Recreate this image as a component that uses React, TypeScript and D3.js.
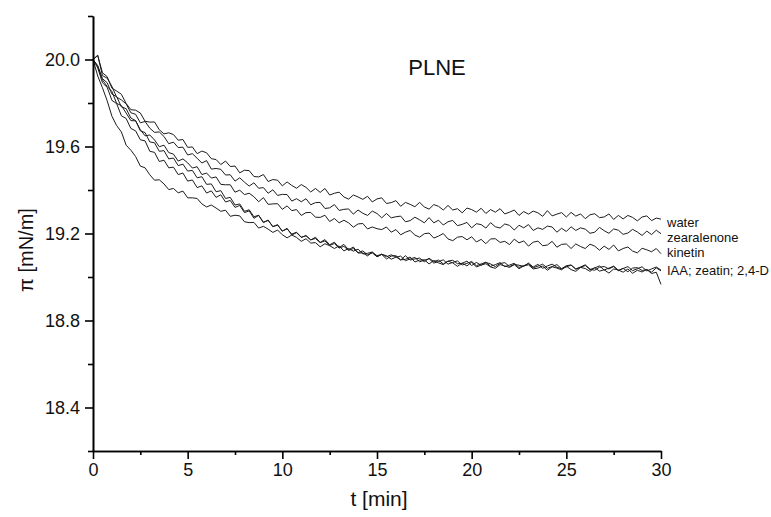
import { useEffect, useRef } from "react";
import * as d3 from "d3";

// surface pressure readings, one every 0.25 min from 0 to 30
const times = d3.range(0, 30.001, 0.25);

const water = [
  20.000, 20.018, 19.939, 19.921, 19.868, 19.855, 19.840, 19.798, 19.769, 19.767,
  19.754, 19.716, 19.712, 19.713, 19.677, 19.658, 19.663, 19.655, 19.629, 19.632,
  19.596, 19.598, 19.567, 19.579, 19.571, 19.544, 19.540, 19.517, 19.533, 19.508,
  19.510, 19.479, 19.491, 19.489, 19.462, 19.460, 19.471, 19.439, 19.448, 19.445,
  19.419, 19.437, 19.421, 19.408, 19.425, 19.412, 19.391, 19.407, 19.389, 19.407,
  19.377, 19.385, 19.390, 19.368, 19.358, 19.377, 19.368, 19.357, 19.371, 19.345,
  19.359, 19.364, 19.338, 19.342, 19.351, 19.325, 19.343, 19.334, 19.323, 19.343,
  19.322, 19.312, 19.333, 19.325, 19.308, 19.329, 19.308, 19.314, 19.295, 19.317,
  19.310, 19.298, 19.316, 19.292, 19.310, 19.298, 19.314, 19.290, 19.298, 19.308,
  19.283, 19.301, 19.289, 19.303, 19.295, 19.279, 19.305, 19.281, 19.289, 19.296,
  19.276, 19.297, 19.280, 19.290, 19.268, 19.286, 19.291, 19.273, 19.276, 19.290,
  19.265, 19.283, 19.267, 19.283, 19.274, 19.258, 19.276, 19.281, 19.259, 19.271,
  19.266,
];

const zearalenone = [
  20.000, 20.020, 19.926, 19.914, 19.876, 19.827, 19.814, 19.796, 19.755, 19.748,
  19.709, 19.715, 19.684, 19.665, 19.667, 19.646, 19.613, 19.620, 19.595, 19.597,
  19.561, 19.567, 19.546, 19.524, 19.535, 19.496, 19.499, 19.495, 19.469, 19.470,
  19.441, 19.456, 19.436, 19.418, 19.433, 19.408, 19.411, 19.385, 19.401, 19.375,
  19.380, 19.379, 19.349, 19.360, 19.346, 19.360, 19.332, 19.342, 19.343, 19.315,
  19.318, 19.333, 19.306, 19.311, 19.313, 19.289, 19.308, 19.293, 19.283, 19.303,
  19.292, 19.272, 19.292, 19.272, 19.277, 19.280, 19.254, 19.259, 19.275, 19.263,
  19.249, 19.273, 19.249, 19.261, 19.239, 19.254, 19.260, 19.236, 19.242, 19.251,
  19.226, 19.245, 19.241, 19.225, 19.250, 19.231, 19.225, 19.244, 19.237, 19.216,
  19.238, 19.226, 19.241, 19.214, 19.226, 19.219, 19.234, 19.230, 19.206, 19.224,
  19.209, 19.231, 19.214, 19.226, 19.220, 19.201, 19.206, 19.228, 19.213, 19.201,
  19.221, 19.215, 19.196, 19.202, 19.219, 19.207, 19.191, 19.211, 19.195, 19.215,
  19.199,
];

const kinetin = [
  20.000, 19.969, 19.906, 19.876, 19.853, 19.798, 19.788, 19.754, 19.719, 19.718,
  19.677, 19.649, 19.653, 19.630, 19.599, 19.606, 19.572, 19.565, 19.533, 19.543,
  19.525, 19.501, 19.507, 19.471, 19.478, 19.455, 19.460, 19.426, 19.424, 19.424,
  19.390, 19.399, 19.379, 19.385, 19.369, 19.346, 19.365, 19.334, 19.336, 19.337,
  19.311, 19.327, 19.305, 19.310, 19.283, 19.296, 19.297, 19.275, 19.274, 19.284,
  19.255, 19.269, 19.249, 19.261, 19.249, 19.229, 19.244, 19.246, 19.221, 19.230,
  19.222, 19.218, 19.230, 19.206, 19.218, 19.194, 19.206, 19.214, 19.193, 19.183,
  19.199, 19.202, 19.179, 19.188, 19.200, 19.175, 19.167, 19.183, 19.186, 19.171,
  19.185, 19.161, 19.173, 19.153, 19.175, 19.176, 19.159, 19.164, 19.149, 19.174,
  19.157, 19.166, 19.142, 19.160, 19.165, 19.144, 19.147, 19.164, 19.137, 19.150,
  19.152, 19.131, 19.152, 19.140, 19.131, 19.151, 19.142, 19.123, 19.142, 19.127,
  19.147, 19.120, 19.131, 19.138, 19.119, 19.111, 19.132, 19.125, 19.116, 19.131,
  19.107,
];

const iaa = [
  20.000, 19.924, 19.870, 19.810, 19.739, 19.696, 19.667, 19.606, 19.583, 19.554,
  19.510, 19.502, 19.470, 19.445, 19.447, 19.428, 19.402, 19.407, 19.387, 19.395,
  19.364, 19.364, 19.361, 19.336, 19.322, 19.331, 19.317, 19.302, 19.307, 19.279,
  19.284, 19.281, 19.254, 19.250, 19.251, 19.225, 19.233, 19.220, 19.205, 19.216,
  19.194, 19.180, 19.193, 19.182, 19.164, 19.176, 19.156, 19.158, 19.139, 19.153,
  19.144, 19.131, 19.143, 19.120, 19.131, 19.119, 19.128, 19.106, 19.109, 19.115,
  19.093, 19.105, 19.093, 19.102, 19.093, 19.078, 19.098, 19.078, 19.083, 19.087,
  19.070, 19.086, 19.071, 19.078, 19.060, 19.073, 19.077, 19.061, 19.063, 19.073,
  19.053, 19.067, 19.054, 19.067, 19.060, 19.048, 19.062, 19.066, 19.048, 19.058,
  19.054, 19.049, 19.064, 19.046, 19.058, 19.040, 19.051, 19.059, 19.045, 19.038,
  19.052, 19.055, 19.037, 19.046, 19.056, 19.036, 19.031, 19.045, 19.048, 19.037,
  19.048, 19.029, 19.040, 19.024, 19.041, 19.043, 19.030, 19.034, 19.022, 19.042,
  19.028,
];

const zeatin = [
  20.000, 19.972, 19.912, 19.893, 19.841, 19.829, 19.782, 19.774, 19.731, 19.719,
  19.672, 19.664, 19.621, 19.617, 19.578, 19.581, 19.543, 19.547, 19.512, 19.519,
  19.487, 19.490, 19.456, 19.461, 19.426, 19.428, 19.392, 19.397, 19.361, 19.366,
  19.331, 19.336, 19.302, 19.309, 19.277, 19.284, 19.252, 19.260, 19.232, 19.238,
  19.212, 19.221, 19.197, 19.206, 19.183, 19.190, 19.171, 19.177, 19.158, 19.166,
  19.145, 19.154, 19.133, 19.141, 19.122, 19.131, 19.112, 19.120, 19.102, 19.111,
  19.093, 19.104, 19.098, 19.082, 19.091, 19.096, 19.075, 19.083, 19.090, 19.070,
  19.077, 19.084, 19.064, 19.071, 19.079, 19.059, 19.067, 19.074, 19.055, 19.063,
  19.071, 19.052, 19.060, 19.068, 19.049, 19.057, 19.066, 19.047, 19.055, 19.063,
  19.044, 19.052, 19.061, 19.042, 19.050, 19.059, 19.040, 19.048, 19.057, 19.038,
  19.046, 19.055, 19.036, 19.044, 19.053, 19.034, 19.042, 19.051, 19.032, 19.041,
  19.050, 19.031, 19.039, 19.048, 19.029, 19.038, 19.047, 19.028, 19.037, 19.046,
  19.032,
];

const d24 = [
  20.000, 19.961, 19.893, 19.872, 19.812, 19.797, 19.741, 19.729, 19.683, 19.672,
  19.631, 19.626, 19.578, 19.573, 19.531, 19.537, 19.502, 19.505, 19.471, 19.478,
  19.441, 19.446, 19.411, 19.419, 19.386, 19.396, 19.366, 19.378, 19.345, 19.352,
  19.320, 19.329, 19.296, 19.304, 19.270, 19.283, 19.250, 19.262, 19.231, 19.241,
  19.210, 19.224, 19.193, 19.204, 19.182, 19.190, 19.170, 19.183, 19.159, 19.172,
  19.148, 19.160, 19.135, 19.150, 19.125, 19.138, 19.110, 19.111, 19.097, 19.114,
  19.098, 19.104, 19.083, 19.096, 19.098, 19.079, 19.081, 19.092, 19.069, 19.078,
  19.079, 19.060, 19.076, 19.065, 19.057, 19.073, 19.065, 19.049, 19.064, 19.051,
  19.068, 19.046, 19.055, 19.061, 19.046, 19.040, 19.057, 19.051, 19.044, 19.057,
  19.038, 19.051, 19.056, 19.037, 19.041, 19.050, 19.031, 19.047, 19.041, 19.033,
  19.050, 19.034, 19.026, 19.044, 19.039, 19.026, 19.043, 19.027, 19.033, 19.018,
  19.037, 19.032, 19.022, 19.037, 19.017, 19.031, 19.023, 19.035, 19.016, 19.022,
  18.966,
];

const series = [water, zearalenone, kinetin, iaa, zeatin, d24];

const labels = [
  { text: "water", value: 19.253 },
  { text: "zearalenone", value: 19.184 },
  { text: "kinetin", value: 19.115 },
  { text: "IAA; zeatin; 2,4-D", value: 19.03 },
];

const xMajor = [0, 5, 10, 15, 20, 25, 30];
const xMinor = [2.5, 7.5, 12.5, 17.5, 22.5, 27.5];
const yMajor = [18.4, 18.8, 19.2, 19.6, 20.0];
const yMinor = [18.2, 18.6, 19.0, 19.4, 19.8, 20.2];

const font = "'Liberation Sans', Arial, sans-serif";

function App() {
  const ref = useRef<SVGSVGElement>(null);

  useEffect(() => {
    document.body.style.margin = "0";
    const svg = d3.select(ref.current);
    svg.selectAll("*").remove();

    const x = d3.scaleLinear().domain([0, 30]).range([93, 661]);
    const y = d3.scaleLinear().domain([18.2, 20.2]).range([451, 16]);

    const line = d3
      .line<number>()
      .x((d, i) => x(times[i]))
      .y((d) => y(d));

    svg
      .append("g")
      .selectAll("path")
      .data(series)
      .enter()
      .append("path")
      .attr("d", (d) => line(d))
      .attr("fill", "none")
      .attr("stroke", "#1c1c1c")
      .attr("stroke-width", 1)
      .attr("stroke-linejoin", "round");

    // axes: minor ticks first, then major with labels
    const styleAxis = (g: any, size: number) => {
      g.select(".domain").attr("stroke", "#000").attr("stroke-width", 1.6);
      g.selectAll(".tick line").attr("stroke", "#000").attr("stroke-width", 1.6);
      g.selectAll(".tick text")
        .attr("font-family", font)
        .attr("font-size", size)
        .attr("fill", "#111");
    };

    svg
      .append("g")
      .attr("transform", "translate(0,451)")
      .call(d3.axisBottom(x).tickValues(xMinor).tickSize(4).tickSizeOuter(0).tickFormat(() => ""))
      .call((g: any) => styleAxis(g, 18));
    svg
      .append("g")
      .attr("transform", "translate(0,451)")
      .call(
        d3
          .axisBottom(x)
          .tickValues(xMajor)
          .tickSize(8)
          .tickSizeOuter(0)
          .tickPadding(4)
          .tickFormat(d3.format("d"))
      )
      .call((g: any) => styleAxis(g, 18));

    svg
      .append("g")
      .attr("transform", "translate(93,0)")
      .call(d3.axisLeft(y).tickValues(yMinor).tickSize(5).tickSizeOuter(0).tickFormat(() => ""))
      .call((g: any) => styleAxis(g, 18));
    svg
      .append("g")
      .attr("transform", "translate(93,0)")
      .call(
        d3
          .axisLeft(y)
          .tickValues(yMajor)
          .tickSize(8)
          .tickSizeOuter(0)
          .tickPadding(5)
          .tickFormat(d3.format(".1f"))
      )
      .call((g: any) => styleAxis(g, 18));

    // curve labels at the right end
    svg
      .append("g")
      .selectAll("text")
      .data(labels)
      .enter()
      .append("text")
      .attr("x", x(30) + 6)
      .attr("y", (d) => y(d.value))
      .attr("dy", "0.35em")
      .attr("font-family", font)
      .attr("font-size", 13)
      .attr("fill", "#111")
      .text((d) => d.text);

    svg
      .append("text")
      .attr("x", 437)
      .attr("y", 67)
      .attr("dy", "0.35em")
      .attr("text-anchor", "middle")
      .attr("font-family", font)
      .attr("font-size", 22)
      .attr("fill", "#111")
      .text("PLNE");

    svg
      .append("text")
      .attr("x", 379)
      .attr("y", 499)
      .attr("dy", "0.35em")
      .attr("text-anchor", "middle")
      .attr("font-family", font)
      .attr("font-size", 21)
      .attr("fill", "#111")
      .text("t [min]");

    svg
      .append("text")
      .attr("transform", "translate(26,250) rotate(-90)")
      .attr("dy", "0.35em")
      .attr("text-anchor", "middle")
      .attr("font-family", font)
      .attr("font-size", 20)
      .attr("fill", "#111")
      .text("π [mN/m]");
  }, []);

  return <svg ref={ref} width="771" height="517" style={{ display: "block", background: "#fff" }}></svg>;
}

export default App;
